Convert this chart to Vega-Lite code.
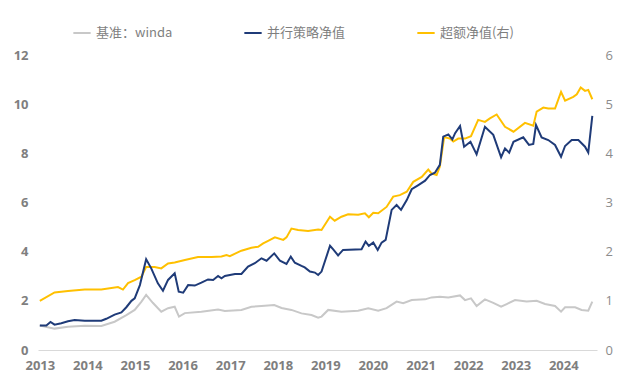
{
"$schema": "https://vega.github.io/schema/vega-lite/v6.json",
"width": 559, "height": 295,
"autosize": "none",
"padding": {"left": 38, "top": 55, "right": 24, "bottom": 31},
"background": "white",
"config": {"view": {"stroke": null}, "font": "Noto Sans CJK SC"},
"datasets": {
"winda": [
{"d":"2013-01-01","v":1.0},{"d":"2013-04-24","v":0.87},{"d":"2013-08-05","v":0.95},{"d":"2013-12-12","v":0.99},{"d":"2014-04-18","v":0.98},{"d":"2014-07-29","v":1.15},{"d":"2014-10-27","v":1.42},{"d":"2014-12-30","v":1.63},{"d":"2015-02-20","v":1.97},{"d":"2015-03-28","v":2.24},{"d":"2015-05-18","v":1.92},{"d":"2015-07-22","v":1.56},{"d":"2015-09-12","v":1.7},{"d":"2015-11-02","v":1.76},{"d":"2015-12-05","v":1.36},{"d":"2016-01-19","v":1.5},{"d":"2016-05-25","v":1.56},{"d":"2016-09-30","v":1.65},{"d":"2016-11-21","v":1.59},{"d":"2017-03-28","v":1.63},{"d":"2017-06-13","v":1.76},{"d":"2017-08-29","v":1.79},{"d":"2017-12-05","v":1.83},{"d":"2018-01-30","v":1.71},{"d":"2018-04-16","v":1.63},{"d":"2018-07-02","v":1.49},{"d":"2018-09-17","v":1.42},{"d":"2018-11-07","v":1.31},{"d":"2018-12-03","v":1.36},{"d":"2019-01-23","v":1.63},{"d":"2019-05-05","v":1.56},{"d":"2019-09-10","v":1.6},{"d":"2019-11-26","v":1.7},{"d":"2020-02-11","v":1.6},{"d":"2020-04-15","v":1.7},{"d":"2020-07-01","v":1.97},{"d":"2020-08-21","v":1.9},{"d":"2020-10-25","v":2.03},{"d":"2021-02-05","v":2.06},{"d":"2021-03-26","v":2.14},{"d":"2021-05-29","v":2.17},{"d":"2021-08-02","v":2.14},{"d":"2021-10-31","v":2.22},{"d":"2021-12-08","v":2.03},{"d":"2022-01-23","v":2.1},{"d":"2022-03-07","v":1.79},{"d":"2022-05-10","v":2.06},{"d":"2022-07-13","v":1.92},{"d":"2022-09-11","v":1.76},{"d":"2022-10-24","v":1.87},{"d":"2022-12-27","v":2.03},{"d":"2023-03-26","v":1.97},{"d":"2023-06-11","v":2.0},{"d":"2023-08-14","v":1.87},{"d":"2023-10-30","v":1.79},{"d":"2023-12-15","v":1.56},{"d":"2024-01-15","v":1.74},{"d":"2024-04-01","v":1.74},{"d":"2024-05-21","v":1.63},{"d":"2024-07-11","v":1.6},{"d":"2024-08-11","v":1.97}
],
"strategy": [
{"d":"2013-01-01","v":1.0},{"d":"2013-02-20","v":1.0},{"d":"2013-03-24","v":1.14},{"d":"2013-04-24","v":1.03},{"d":"2013-06-15","v":1.09},{"d":"2013-08-05","v":1.17},{"d":"2013-09-25","v":1.22},{"d":"2013-12-12","v":1.19},{"d":"2014-04-18","v":1.19},{"d":"2014-05-26","v":1.27},{"d":"2014-07-29","v":1.44},{"d":"2014-09-19","v":1.53},{"d":"2014-10-27","v":1.74},{"d":"2014-12-05","v":2.0},{"d":"2014-12-30","v":2.1},{"d":"2015-02-08","v":2.64},{"d":"2015-03-28","v":3.69},{"d":"2015-05-06","v":3.32},{"d":"2015-06-26","v":2.71},{"d":"2015-08-04","v":2.41},{"d":"2015-09-12","v":2.85},{"d":"2015-11-02","v":3.12},{"d":"2015-12-03","v":2.37},{"d":"2016-01-06","v":2.33},{"d":"2016-02-13","v":2.64},{"d":"2016-04-04","v":2.62},{"d":"2016-05-25","v":2.74},{"d":"2016-07-15","v":2.87},{"d":"2016-08-23","v":2.85},{"d":"2016-09-30","v":3.01},{"d":"2016-10-26","v":2.92},{"d":"2016-11-21","v":3.01},{"d":"2017-02-07","v":3.09},{"d":"2017-03-28","v":3.09},{"d":"2017-05-18","v":3.39},{"d":"2017-07-09","v":3.53},{"d":"2017-08-29","v":3.73},{"d":"2017-10-07","v":3.63},{"d":"2017-12-05","v":3.93},{"d":"2018-01-18","v":3.63},{"d":"2018-03-09","v":3.5},{"d":"2018-04-11","v":3.8},{"d":"2018-05-12","v":3.55},{"d":"2018-07-02","v":3.42},{"d":"2018-07-27","v":3.36},{"d":"2018-09-05","v":3.19},{"d":"2018-10-13","v":3.15},{"d":"2018-11-07","v":3.05},{"d":"2018-12-03","v":3.19},{"d":"2019-02-06","v":4.24},{"d":"2019-03-01","v":4.1},{"d":"2019-04-09","v":3.85},{"d":"2019-05-17","v":4.07},{"d":"2019-10-06","v":4.1},{"d":"2019-11-06","v":4.41},{"d":"2019-12-01","v":4.24},{"d":"2020-01-04","v":4.37},{"d":"2020-02-07","v":4.07},{"d":"2020-03-08","v":4.37},{"d":"2020-04-08","v":4.48},{"d":"2020-05-24","v":5.7},{"d":"2020-07-01","v":5.9},{"d":"2020-08-04","v":5.7},{"d":"2020-09-17","v":6.1},{"d":"2020-10-25","v":6.54},{"d":"2020-12-15","v":6.71},{"d":"2021-02-05","v":6.89},{"d":"2021-03-14","v":7.12},{"d":"2021-04-21","v":7.21},{"d":"2021-05-29","v":7.53},{"d":"2021-06-24","v":8.68},{"d":"2021-08-02","v":8.77},{"d":"2021-09-02","v":8.57},{"d":"2021-09-23","v":8.82},{"d":"2021-10-31","v":9.11},{"d":"2021-12-01","v":8.27},{"d":"2022-01-19","v":8.47},{"d":"2022-03-07","v":7.96},{"d":"2022-05-10","v":9.08},{"d":"2022-07-13","v":8.75},{"d":"2022-09-11","v":7.84},{"d":"2022-10-11","v":8.2},{"d":"2022-11-12","v":8.03},{"d":"2022-12-15","v":8.47},{"d":"2023-02-28","v":8.65},{"d":"2023-04-13","v":8.34},{"d":"2023-05-16","v":8.38},{"d":"2023-06-06","v":9.15},{"d":"2023-07-19","v":8.65},{"d":"2023-09-08","v":8.54},{"d":"2023-10-30","v":8.34},{"d":"2023-12-15","v":7.86},{"d":"2024-01-15","v":8.3},{"d":"2024-03-06","v":8.54},{"d":"2024-04-26","v":8.54},{"d":"2024-06-16","v":8.27},{"d":"2024-07-11","v":8.03},{"d":"2024-08-11","v":9.52}
],
"excess": [
{"d":"2013-01-01","v":1.0},{"d":"2013-04-24","v":1.17},{"d":"2013-08-05","v":1.2},{"d":"2013-12-12","v":1.23},{"d":"2014-04-18","v":1.23},{"d":"2014-08-24","v":1.28},{"d":"2014-10-01","v":1.23},{"d":"2014-11-09","v":1.36},{"d":"2014-12-30","v":1.42},{"d":"2015-02-20","v":1.49},{"d":"2015-03-28","v":1.69},{"d":"2015-06-01","v":1.69},{"d":"2015-07-22","v":1.66},{"d":"2015-09-12","v":1.76},{"d":"2015-11-02","v":1.78},{"d":"2016-01-19","v":1.83},{"d":"2016-04-29","v":1.89},{"d":"2016-08-11","v":1.89},{"d":"2016-10-26","v":1.9},{"d":"2016-12-04","v":1.93},{"d":"2016-12-29","v":1.91},{"d":"2017-03-28","v":2.02},{"d":"2017-06-13","v":2.08},{"d":"2017-08-03","v":2.1},{"d":"2017-09-11","v":2.17},{"d":"2017-10-19","v":2.22},{"d":"2017-12-10","v":2.29},{"d":"2018-02-12","v":2.24},{"d":"2018-03-09","v":2.29},{"d":"2018-04-16","v":2.47},{"d":"2018-06-06","v":2.44},{"d":"2018-08-22","v":2.42},{"d":"2018-11-07","v":2.45},{"d":"2018-12-03","v":2.44},{"d":"2019-02-06","v":2.71},{"d":"2019-03-14","v":2.63},{"d":"2019-05-05","v":2.71},{"d":"2019-06-25","v":2.76},{"d":"2019-09-10","v":2.75},{"d":"2019-11-01","v":2.78},{"d":"2019-12-01","v":2.7},{"d":"2020-01-04","v":2.79},{"d":"2020-02-11","v":2.78},{"d":"2020-04-15","v":2.91},{"d":"2020-06-05","v":3.12},{"d":"2020-07-26","v":3.15},{"d":"2020-09-17","v":3.22},{"d":"2020-11-06","v":3.42},{"d":"2021-01-10","v":3.52},{"d":"2021-03-01","v":3.67},{"d":"2021-03-26","v":3.59},{"d":"2021-05-04","v":3.56},{"d":"2021-05-29","v":3.73},{"d":"2021-07-01","v":4.33},{"d":"2021-08-14","v":4.3},{"d":"2021-09-09","v":4.24},{"d":"2021-10-17","v":4.3},{"d":"2021-12-08","v":4.3},{"d":"2022-01-23","v":4.35},{"d":"2022-03-19","v":4.68},{"d":"2022-05-10","v":4.64},{"d":"2022-06-17","v":4.71},{"d":"2022-08-08","v":4.79},{"d":"2022-10-11","v":4.54},{"d":"2022-12-15","v":4.44},{"d":"2023-03-13","v":4.62},{"d":"2023-05-16","v":4.56},{"d":"2023-06-11","v":4.85},{"d":"2023-08-01","v":4.93},{"d":"2023-09-08","v":4.91},{"d":"2023-10-30","v":4.91},{"d":"2023-12-15","v":5.25},{"d":"2024-01-15","v":5.07},{"d":"2024-03-18","v":5.15},{"d":"2024-04-14","v":5.2},{"d":"2024-05-14","v":5.34},{"d":"2024-06-16","v":5.27},{"d":"2024-07-11","v":5.29},{"d":"2024-08-11","v":5.1}
]
},
"encoding": {
  "x": {"field": "d", "type": "temporal", "title": null,
    "scale": {"domain": ["2012-12-18", "2024-09-16"]},
    "axis": {"values": [{"year":2013},{"year":2014},{"year":2015},{"year":2016},{"year":2017},{"year":2018},{"year":2019},{"year":2020},{"year":2021},{"year":2022},{"year":2023},{"year":2024}],
      "format": "%Y", "labelAngle": 0, "ticks": false, "grid": false, "domainColor": "#D9D9D9", "domainWidth": 1,
      "labelFontSize": 13, "labelFontWeight": "bold", "labelColor": "#7F7F7F", "labelPadding": 9, "labelFont": "Open Sans"}}
},
"layer": [
  {
    "data": {"name": "excess"},
    "mark": {"type": "line", "strokeWidth": 2},
    "encoding": {
      "y": {"field": "v", "type": "quantitative", "title": null,
        "scale": {"domain": [0, 6], "nice": false},
        "axis": {"orient": "right", "values": [0,1,2,3,4,5,6], "ticks": false, "domain": false, "grid": false,
          "labelFontSize": 13, "labelColor": "#8C8C8C", "labelPadding": 8, "labelFont": "Open Sans"}},
      "color": {"datum": "超额净值(右)", "type": "nominal"}
    }
  },
  {
    "data": {"name": "winda"},
    "mark": {"type": "line", "strokeWidth": 2},
    "encoding": {
      "y": {"field": "v", "type": "quantitative", "title": null,
        "scale": {"domain": [0, 12], "nice": false},
        "axis": {"orient": "left", "values": [0,2,4,6,8,10,12], "ticks": false, "domain": false, "grid": false,
          "labelFontSize": 13, "labelFontWeight": "bold", "labelColor": "#7F7F7F", "labelPadding": 10, "labelFont": "Open Sans"}},
      "color": {"datum": "基准：winda", "type": "nominal"}
    }
  },
  {
    "data": {"name": "strategy"},
    "mark": {"type": "line", "strokeWidth": 2},
    "encoding": {
      "y": {"field": "v", "type": "quantitative", "title": null,
        "scale": {"domain": [0, 12], "nice": false}, "axis": null},
      "color": {"datum": "并行策略净值", "type": "nominal",
        "scale": {"domain": ["基准：winda", "并行策略净值", "超额净值(右)"], "range": ["#C8C8C8", "#1F3B78", "#FFC000"]},
        "legend": {"title": null, "orient": "none", "legendX": 34, "legendY": -32, "direction": "horizontal",
          "symbolType": "stroke", "symbolStrokeWidth": 2, "symbolSize": 300, "columnPadding": 67,
          "labelFontSize": 13, "labelColor": "#7F7F7F", "labelOffset": 4}}
    }
  }
],
"resolve": {"scale": {"y": "independent"}}
}
